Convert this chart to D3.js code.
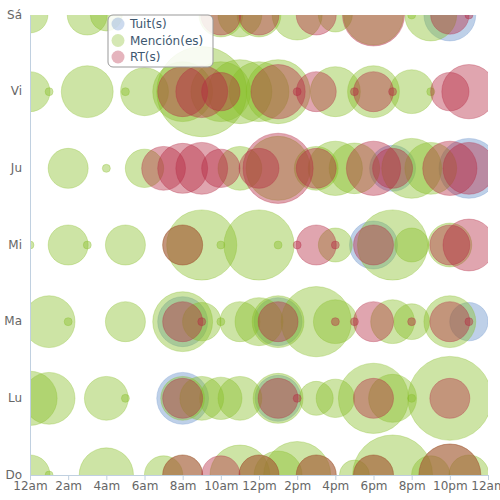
<!DOCTYPE html>
<html>
<head>
<meta charset="utf-8">
<script src="https://cdn.jsdelivr.net/npm/d3@7"></script>
<style>
  body { margin: 0; background: #fff; }
  text { font-family: "DejaVu Sans", Verdana, sans-serif; }
</style>
</head>
<body>
<div id="chart"></div>
<script>
// days from bottom to top
const days = ['Do', 'Lu', 'Ma', 'Mi', 'Ju', 'Vi', 'Sá'];
const hourTicks = [0, 2, 4, 6, 8, 10, 12, 14, 16, 18, 20, 22, 24];
const hourLabels = ['12am', '2am', '4am', '6am', '8am', '10am', '12pm', '2pm', '4pm', '6pm', '8pm', '10pm', '12am'];

// [day, hour, count]
const tuits = [
  [6, 22, 42],
  [4, 19, 33], [4, 23, 56],
  [3, 18, 36],
  [2, 8, 39], [2, 13, 36], [2, 23, 23],
  [1, 8, 42], [1, 13, 33]
];

const menciones = [
  [6, 0, 20], [6, 3, 25], [6, 4, 16], [6, 10, 30], [6, 11, 30], [6, 12, 30], [6, 14, 39],
  [6, 16, 18], [6, 18, 56], [6, 20, 1], [6, 21, 42],
  [5, 0, 25], [5, 1, 1], [5, 3, 42], [5, 5, 1], [5, 6, 36], [5, 8, 56], [5, 9, 127],
  [5, 10, 56], [5, 11, 64], [5, 12, 56], [5, 13, 64], [5, 16, 39], [5, 18, 42], [5, 20, 30], [5, 21, 1],
  [4, 2, 25], [4, 4, 1], [4, 6, 23], [4, 11, 30], [4, 13, 64], [4, 15, 30], [4, 16, 46], [4, 17, 40],
  [4, 20, 56], [4, 21, 42],
  [3, 0, 1], [3, 2, 25], [3, 3, 1], [3, 5, 25], [3, 8, 25], [3, 9, 77], [3, 10, 1], [3, 12, 77], [3, 13, 1],
  [3, 16, 18], [3, 19, 77], [3, 20, 18], [3, 22, 30],
  [2, 1, 42], [2, 2, 1], [2, 5, 25], [2, 8, 56], [2, 9, 23], [2, 10, 1], [2, 11, 25], [2, 12, 36],
  [2, 13, 42], [2, 15, 77], [2, 16, 30], [2, 19, 30], [2, 20, 20], [2, 22, 42],
  [1, 0, 46], [1, 1, 42], [1, 4, 30], [1, 5, 1], [1, 8, 30], [1, 9, 30], [1, 10, 28], [1, 11, 30],
  [1, 13, 39], [1, 15, 18], [1, 16, 23], [1, 18, 77], [1, 19, 36], [1, 20, 1], [1, 22, 110],
  [0, 0, 25], [0, 1, 1], [0, 4, 46], [0, 7, 23], [0, 8, 25], [0, 11, 56], [0, 12, 25], [0, 13, 36],
  [0, 14, 70], [0, 15, 25], [0, 17, 14], [0, 18, 25], [0, 19, 100], [0, 21, 23], [0, 22, 60], [0, 23, 25]
];

const rts = [
  [6, 10, 25], [6, 12, 25], [6, 15, 25], [6, 18, 60], [6, 22, 23], [6, 23, 1],
  [5, 8, 39], [5, 9, 42], [5, 10, 23], [5, 13, 46], [5, 14, 1], [5, 15, 25], [5, 17, 1],
  [5, 18, 25], [5, 19, 1], [5, 22, 23], [5, 23, 46],
  [4, 7, 30], [4, 8, 39], [4, 9, 42], [4, 10, 23], [4, 12, 25], [4, 13, 77], [4, 15, 25],
  [4, 18, 46], [4, 19, 25], [4, 22, 46], [4, 23, 42],
  [3, 8, 25], [3, 14, 1], [3, 15, 25], [3, 16, 1], [3, 18, 25], [3, 22, 25], [3, 23, 42],
  [2, 8, 25], [2, 9, 1], [2, 13, 25], [2, 16, 1], [2, 17, 1], [2, 18, 25], [2, 20, 1],
  [2, 22, 25], [2, 23, 1],
  [1, 8, 25], [1, 13, 25], [1, 14, 1], [1, 18, 25], [1, 22, 25],
  [0, 8, 25], [0, 10, 23], [0, 12, 25], [0, 15, 25], [0, 18, 25], [0, 22, 60]
];

const seriesNames = ['Tuit(s)', 'Mención(es)', 'RT(s)'];
const seriesColors = ['rgb(110,150,205)', 'rgb(135,190,40)', 'rgb(180,40,65)'];
const seriesOpacity = [0.45, 0.42, 0.42];

const width = 500;
const height = 500;
const margin = { top: 15, right: 12, bottom: 25, left: 30 };

const svg = d3.select('#chart').append('svg')
  .attr('width', width)
  .attr('height', height);

const x = d3.scaleLinear()
  .domain([0, 24])
  .range([margin.left, width - margin.right]);

const y = d3.scaleLinear()
  .domain([0, days.length - 1])
  .range([height - margin.bottom, margin.top]);

const r = d3.scaleSqrt()
  .domain([0, 100])
  .range([0, 40]);

svg.append('clipPath')
  .attr('id', 'plotClip')
  .append('rect')
  .attr('x', margin.left)
  .attr('y', margin.top)
  .attr('width', width - margin.left - margin.right)
  .attr('height', height - margin.top - margin.bottom);

const plot = svg.append('g').attr('clip-path', 'url(#plotClip)');

[tuits, menciones, rts].forEach((series, i) => {
  plot.append('g')
    .selectAll('circle')
    .data(series)
    .join('circle')
    .attr('cx', d => x(d[1]))
    .attr('cy', d => y(d[0]))
    .attr('r', d => r(d[2]))
    .attr('fill', seriesColors[i])
    .attr('fill-opacity', seriesOpacity[i])
    .attr('stroke', seriesColors[i])
    .attr('stroke-opacity', 0.3)
    .attr('stroke-width', 1);
});

// x axis
const xAxis = svg.append('g')
  .attr('transform', `translate(0,${height - margin.bottom})`)
  .call(d3.axisBottom(x)
    .tickValues(hourTicks)
    .tickFormat((d, i) => hourLabels[i])
    .tickSize(5)
    .tickSizeOuter(0));

xAxis.select('.domain').attr('stroke', '#C0D0E0');
xAxis.selectAll('.tick line').attr('stroke', '#C0D0E0');
xAxis.selectAll('.tick text')
  .attr('fill', '#666')
  .attr('font-size', 12)
  .attr('y', 6)
  .attr('dy', '0.75em');

// y axis
const yAxis = svg.append('g')
  .attr('transform', `translate(${margin.left},0)`)
  .call(d3.axisLeft(y)
    .tickValues(d3.range(days.length))
    .tickFormat(d => days[d])
    .tickSize(0)
    .tickPadding(8));

yAxis.select('.domain').attr('stroke', '#C0D0E0');
yAxis.selectAll('.tick text')
  .attr('fill', '#666')
  .attr('font-size', 12)
  .attr('dy', '0.25em');

// legend
const legend = svg.append('g').attr('transform', 'translate(108,15)');

legend.append('rect')
  .attr('width', 105)
  .attr('height', 52)
  .attr('rx', 5)
  .attr('fill', '#fff')
  .attr('fill-opacity', 0.85)
  .attr('stroke', '#999')
  .attr('stroke-width', 1);

const items = legend.selectAll('g.item')
  .data(seriesNames)
  .join('g')
  .attr('class', 'item')
  .attr('transform', (d, i) => `translate(0,${9 + i * 16.5})`);

items.append('circle')
  .attr('cx', 10)
  .attr('cy', 0)
  .attr('r', 6.5)
  .attr('fill', (d, i) => seriesColors[i])
  .attr('fill-opacity', 0.35);

items.append('text')
  .attr('x', 22)
  .attr('y', 0)
  .attr('dy', '0.35em')
  .attr('font-size', 12)
  .attr('fill', '#3E576F')
  .text(d => d);
</script>
</body>
</html>
